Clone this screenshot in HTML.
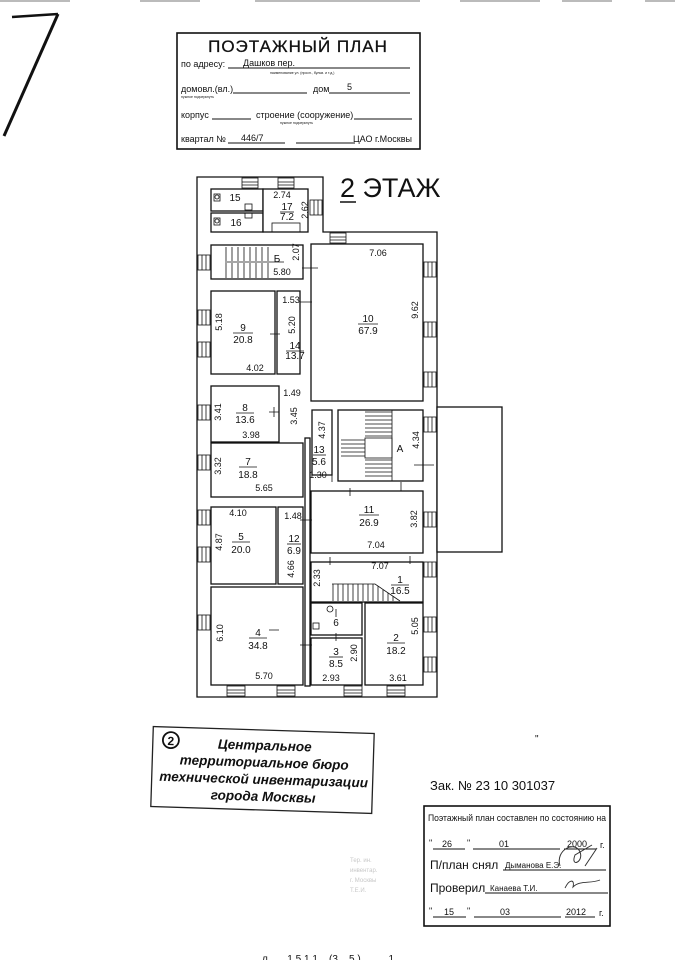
<!DOCTYPE html>
<html><head><meta charset="utf-8"><style>
html,body{margin:0;padding:0;background:#fff;}
svg{display:block;}
text{font-family:"Liberation Sans","DejaVu Sans",sans-serif;fill:#111;}
.s{font-size:9px;}
.n{font-size:10px;}
.w{fill:#fff;stroke:#111;stroke-width:1.3;}
.l{stroke:#111;stroke-width:1;fill:none;}
.t{stroke:#111;stroke-width:0.8;}
</style></head><body>
<svg width="696" height="960" viewBox="0 0 696 960" xmlns="http://www.w3.org/2000/svg">
<g fill="#bbb">
<rect x="0" y="0" width="70" height="2"/><rect x="140" y="0" width="60" height="2"/><rect x="255" y="0" width="165" height="2"/>
<rect x="460" y="0" width="80" height="2"/><rect x="562" y="0" width="50" height="2"/><rect x="645" y="0" width="30" height="2"/>
</g>
<path d="M12 17 L58 14" stroke="#111" stroke-width="2.5" fill="none"/>
<path d="M58 14 L4 136" stroke="#111" stroke-width="3" fill="none"/>

<rect x="177" y="33" width="243" height="116" fill="none" stroke="#111" stroke-width="1.6"/>
<text x="298" y="52" font-size="17" text-anchor="middle" letter-spacing="1" stroke="#111" stroke-width="0.3">ПОЭТАЖНЫЙ ПЛАН</text>
<text x="181" y="67" font-size="9">по адресу:</text>
<line x1="228" y1="68" x2="410" y2="68" class="l"/>
<text x="243" y="66" font-size="9">Дашков пер.</text>
<text x="270" y="74" font-size="3.5">наименование ул. (просп., бульв. и т.д.)</text>
<text x="181" y="92" font-size="9">домовл.(вл.)</text>
<line x1="233" y1="93" x2="307" y2="93" class="l"/>
<text x="313" y="92" font-size="9">дом</text>
<line x1="329" y1="93" x2="410" y2="93" class="l"/>
<text x="347" y="90" font-size="9">5</text>
<text x="181" y="98" font-size="3.5">нужное подчеркнуть</text>
<text x="181" y="118" font-size="9">корпус</text>
<line x1="212" y1="119" x2="251" y2="119" class="l"/>
<text x="256" y="118" font-size="9">строение (сооружение)</text>
<line x1="354" y1="119" x2="412" y2="119" class="l"/>
<text x="280" y="124" font-size="3.5">нужное подчеркнуть</text>
<text x="181" y="142" font-size="9">квартал №</text>
<line x1="228" y1="143" x2="285" y2="143" class="l"/>
<text x="241" y="141" font-size="9">446/7</text>
<line x1="296" y1="143" x2="355" y2="143" class="l"/>
<text x="353" y="142" font-size="9">ЦАО г.Москвы</text>

<text x="340" y="197" font-size="27">2 ЭТАЖ</text>
<line x1="340" y1="202" x2="356" y2="202" stroke="#111" stroke-width="1.5"/>

<path d="M197 177 L323 177 L323 232 L437 232 L437 697 L197 697 Z" class="w" stroke-width="1.6"/>
<rect x="437" y="407" width="65" height="145" class="w"/>

<rect x="211" y="189" width="52" height="22" class="w"/>
<rect x="211" y="213" width="52" height="19" class="w"/>
<rect x="263" y="189" width="45" height="43" class="w"/>
<rect x="211" y="245" width="92" height="34" class="w"/>
<rect x="311" y="244" width="112" height="157" class="w"/>
<rect x="211" y="291" width="64" height="83" class="w"/>
<rect x="277" y="291" width="23" height="83" class="w"/>
<rect x="211" y="386" width="68" height="56" class="w"/>
<rect x="211" y="443" width="92" height="54" class="w"/>
<rect x="305" y="438" width="5" height="248" class="w"/>
<rect x="338" y="410" width="85" height="71" class="w"/>
<path d="M312 410 L332 410 L332 475 L312 475 Z" class="w"/>
<rect x="311" y="491" width="112" height="62" class="w"/>
<rect x="211" y="507" width="65" height="77" class="w"/>
<rect x="278" y="507" width="25" height="77" class="w"/>
<rect x="211" y="587" width="92" height="98" class="w"/>
<rect x="311" y="562" width="112" height="40" class="w"/>
<rect x="311" y="603" width="51" height="32" class="w"/>
<rect x="311" y="638" width="51" height="47" class="w"/>
<rect x="365" y="603" width="58" height="82" class="w"/>

<g class="t" fill="none">
<line x1="225" y1="262" x2="284" y2="262"/>
<path d="M226 247v14M232 247v14M238 247v14M244 247v14M250 247v14M256 247v14M262 247v14M268 247v14"/>
<path d="M226 263v15M232 263v15M238 263v15M244 263v15M250 263v15M256 263v15M262 263v15M268 263v15"/>
</g>
<g class="t" fill="none">
<rect x="365" y="438" width="27" height="20" fill="none"/>
<path d="M365 412h27M365 416h27M365 420h27M365 424h27M365 428h27M365 432h27M365 436h27"/>
<path d="M341 440h24M341 444h24M341 448h24M341 452h24M341 456h24"/>
<path d="M365 460h27M365 464h27M365 468h27M365 472h27M365 476h27"/>
<line x1="392" y1="410" x2="392" y2="481"/>
</g>
<g class="t" fill="none">
<path d="M332 584 L375 584 L400 601"/>
<path d="M333 584v17M338 584v17M343 584v17M348 584v17M353 584v17M358 584v17M363 584v17M368 584v17M373 584v17M378 586v15M383 590v11M388 593v8M393 596v5"/>
</g>

<g class="t" fill="#fff">
<g id="wl"><rect x="198" y="255" width="12" height="15" fill="#fff"/><path d="M202 255v15M206 255v15"/></g>
<use href="#wl" y="55"/><use href="#wl" y="87"/><use href="#wl" y="150"/><use href="#wl" y="200"/><use href="#wl" y="255"/><use href="#wl" y="292"/><use href="#wl" y="360"/>
<g id="wr"><rect x="424" y="262" width="12" height="15" fill="#fff"/><path d="M428 262v15M432 262v15"/></g>
<use href="#wr" y="60"/><use href="#wr" y="110"/><use href="#wr" y="155"/><use href="#wr" y="250"/><use href="#wr" y="300"/><use href="#wr" y="355"/><use href="#wr" y="395"/>
<g id="wb"><rect x="227" y="686" width="18" height="10" fill="#fff"/><path d="M227 690h18M227 693h18"/></g>
<use href="#wb" x="50"/><use href="#wb" x="117"/><use href="#wb" x="160"/>
<rect x="242" y="178" width="16" height="10" fill="#fff"/><path d="M242 182h16M242 185h16"/>
<rect x="278" y="178" width="16" height="10" fill="#fff"/><path d="M278 182h16M278 185h16"/>
<rect x="330" y="233" width="16" height="10" fill="#fff"/><path d="M330 237h16M330 240h16"/>
<rect x="310" y="200" width="12" height="15" fill="#fff"/><path d="M314 200v15M318 200v15"/>
</g>
<g class="t" fill="none">
<path d="M302 268h16M275 340v-10M270 334h10M279 412h-10M274 407v10M312 302h-12M300 520h12M279 630h-10M300 645h12M336 617v-8M336 641v-8M414 465h20M332 474v8M401 482v9M350 488v8M330 557v8M410 556v8M272 497h20"/>
</g>
<g class="t" fill="none">
<rect x="214" y="194" width="6" height="7"/><circle cx="217" cy="197" r="2"/>
<rect x="214" y="218" width="6" height="7"/><circle cx="217" cy="221" r="2"/>
<rect x="245" y="204" width="7" height="6"/><rect x="245" y="213" width="7" height="5"/>
<circle cx="330" cy="609" r="3"/><rect x="313" y="623" width="6" height="6"/>
<rect x="272" y="223" width="28" height="9"/>
</g>

<g class="n" text-anchor="middle">
<text x="235" y="201">15</text><text x="236" y="226">16</text>
<text x="287" y="210">17</text><line x1="280" y1="212" x2="294" y2="212" class="t"/><text x="287" y="220">7.2</text>
<text x="277" y="262">Б</text>
<text x="368" y="322">10</text><line x1="358" y1="324" x2="378" y2="324" class="t"/><text x="368" y="334">67.9</text>
<text x="243" y="331">9</text><line x1="233" y1="333" x2="253" y2="333" class="t"/><text x="243" y="343">20.8</text>
<text x="295" y="349">14</text><line x1="286" y1="351" x2="304" y2="351" class="t"/><text x="295" y="359">13.7</text>
<text x="245" y="411">8</text><line x1="236" y1="413" x2="254" y2="413" class="t"/><text x="245" y="423">13.6</text>
<text x="319" y="453">13</text><line x1="313" y1="455" x2="326" y2="455" class="t"/><text x="319" y="465">5.6</text>
<text x="400" y="452">А</text>
<text x="248" y="465">7</text><line x1="239" y1="467" x2="257" y2="467" class="t"/><text x="248" y="478">18.8</text>
<text x="369" y="513">11</text><line x1="359" y1="515" x2="379" y2="515" class="t"/><text x="369" y="526">26.9</text>
<text x="241" y="540">5</text><line x1="232" y1="542" x2="250" y2="542" class="t"/><text x="241" y="553">20.0</text>
<text x="294" y="542">12</text><line x1="287" y1="544" x2="301" y2="544" class="t"/><text x="294" y="554">6.9</text>
<text x="400" y="583">1</text><line x1="391" y1="585" x2="409" y2="585" class="t"/><text x="400" y="594">16.5</text>
<text x="336" y="626">6</text>
<text x="258" y="636">4</text><line x1="249" y1="638" x2="267" y2="638" class="t"/><text x="258" y="649">34.8</text>
<text x="396" y="641">2</text><line x1="387" y1="643" x2="405" y2="643" class="t"/><text x="396" y="654">18.2</text>
<text x="336" y="655">3</text><line x1="329" y1="657" x2="343" y2="657" class="t"/><text x="336" y="667">8.5</text>
</g>
<g class="s" text-anchor="middle">
<text x="282" y="198">2.74</text><text x="282" y="275">5.80</text><text x="378" y="256">7.06</text>
<text x="255" y="371">4.02</text><text x="291" y="303">1.53</text><text x="292" y="396">1.49</text>
<text x="251" y="438">3.98</text><text x="318" y="478">1.30</text><text x="264" y="491">5.65</text>
<text x="238" y="516">4.10</text><text x="293" y="519">1.48</text><text x="376" y="548">7.04</text>
<text x="380" y="569">7.07</text><text x="264" y="679">5.70</text><text x="331" y="681">2.93</text><text x="398" y="681">3.61</text>
</g>
<g class="s" text-anchor="middle">
<text transform="translate(308,210) rotate(-90)">2.62</text>
<text transform="translate(299,252) rotate(-90)">2.07</text>
<text transform="translate(418,310) rotate(-90)">9.62</text>
<text transform="translate(222,322) rotate(-90)">5.18</text>
<text transform="translate(295,325) rotate(-90)">5.20</text>
<text transform="translate(297,416) rotate(-90)">3.45</text>
<text transform="translate(221,412) rotate(-90)">3.41</text>
<text transform="translate(325,430) rotate(-90)">4.37</text>
<text transform="translate(419,440) rotate(-90)">4.34</text>
<text transform="translate(221,466) rotate(-90)">3.32</text>
<text transform="translate(222,542) rotate(-90)">4.87</text>
<text transform="translate(294,569) rotate(-90)">4.66</text>
<text transform="translate(417,519) rotate(-90)">3.82</text>
<text transform="translate(320,578) rotate(-90)">2.33</text>
<text transform="translate(418,626) rotate(-90)">5.05</text>
<text transform="translate(223,633) rotate(-90)">6.10</text>
<text transform="translate(357,653) rotate(-90)">2.90</text>
</g>

<g transform="rotate(1.8 262 770)">
<rect x="152" y="730" width="221" height="80" fill="none" stroke="#222" stroke-width="1.3"/>
<circle cx="170" cy="743" r="8" fill="none" stroke="#111" stroke-width="1.8"/>
<text x="170" y="748" font-size="12" font-weight="bold" text-anchor="middle">2</text>
<g font-size="13.5" font-style="italic" font-weight="bold" text-anchor="middle">
<text x="264" y="750">Центральное</text>
<text x="264" y="767">территориальное бюро</text>
<text x="264" y="784">технической инвентаризации</text>
<text x="264" y="801">города Москвы</text>
</g>
</g>
<text x="535" y="742" font-size="10">"</text>

<text x="430" y="790" font-size="13">Зак. № 23 10 301037</text>
<rect x="424" y="806" width="186" height="120" fill="none" stroke="#111" stroke-width="1.6"/>
<text x="428" y="821" font-size="9.5" textLength="178" lengthAdjust="spacingAndGlyphs">Поэтажный план составлен по состоянию на</text>
<g font-size="9">
<text x="429" y="846">"</text><line x1="433" y1="849" x2="465" y2="849" class="l"/><text x="442" y="847">26</text><text x="467" y="846">"</text>
<line x1="473" y1="849" x2="560" y2="849" class="l"/><text x="499" y="847">01</text>
<line x1="564" y1="849" x2="596" y2="849" class="l"/><text x="567" y="847">2000</text><text x="600" y="848">г.</text>
</g>
<text x="430" y="869" font-size="12">П/план снял</text>
<line x1="503" y1="870" x2="606" y2="870" class="l"/><text x="505" y="868" font-size="8">Дыманова Е.Э.</text>
<path d="M560 866 C555 850,575 840,580 852 C584 862,570 868,575 855 L592 845 M585 866 L597 848" fill="none" stroke="#333" stroke-width="1"/>
<text x="430" y="892" font-size="12">Проверил</text>
<line x1="485" y1="893" x2="608" y2="893" class="l"/><text x="490" y="891" font-size="8">Канаева Т.И.</text>
<path d="M565 888 C570 878,575 880,573 887 C580 880,590 884,600 880" fill="none" stroke="#333" stroke-width="0.9"/>
<g font-size="9">
<text x="429" y="914">"</text><line x1="433" y1="917" x2="466" y2="917" class="l"/><text x="444" y="915">15</text><text x="467" y="914">"</text>
<line x1="474" y1="917" x2="561" y2="917" class="l"/><text x="500" y="915">03</text>
<line x1="565" y1="917" x2="595" y2="917" class="l"/><text x="566" y="915">2012</text><text x="599" y="916">г.</text>
</g>
<g font-size="6">
<text x="350" y="862" style="fill:#c8c8c8">Тер. ин.</text><text x="350" y="872" style="fill:#c8c8c8">инвентар.</text>
<text x="350" y="882" style="fill:#c8c8c8">г. Москвы</text><text x="350" y="892" style="fill:#c8c8c8">Т.Е.И.</text>
</g>
<text x="262" y="962" font-size="10" fill="#444">л _ _ 1 5 1 1 _ (3 _ 5 ) _ _ _ 1</text>
</svg>
</body></html>
